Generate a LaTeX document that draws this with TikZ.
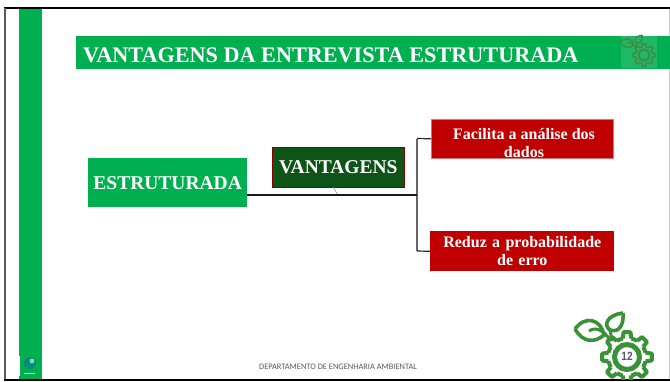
\documentclass[tikz,border=0pt]{standalone}
\usepackage{fontspec}
\setmainfont{Liberation Serif}
\newfontfamily\footfont{Carlito}
\newfontfamily\numfont{Liberation Sans}
\definecolor{gbar}{RGB}{0,176,80}
\definecolor{dgreen}{RGB}{14,84,24}
\definecolor{dred}{RGB}{192,0,0}
\definecolor{icong}{RGB}{58,146,56}
\definecolor{faintg}{RGB}{62,140,72}
\definecolor{numc}{RGB}{95,85,110}
\definecolor{globec}{RGB}{0,140,125}
\newcommand{\iconlw}{1}
\tikzset{
  x=1pt,y=-1pt,
  greenbox/.style={fill=gbar,text=white,font=\bfseries\fontsize{19.5}{22}\selectfont,inner sep=0pt,anchor=north west},
  redbox/.style={fill=dred,draw=dred!55!white,line width=.6pt,text=white,font=\bfseries\fontsize{16}{18}\selectfont,inner sep=0pt,align=center,anchor=north west},
  conn/.style={line width=1.5pt,black!90},
  branch/.style={line width=1.2pt,black!60},
  pics/ecogear/.style={code={
    \draw[#1,line width=\iconlw*4pt,line join=round]
      \foreach \a in {0,45,...,315}{
        {(\a-13:19) -- (\a-8:25) -- (\a+8:25) -- (\a+13:19)}
        {(\a+13:19) arc[start angle=\a+13,end angle=\a+32,radius=19]}
      };
    \draw[#1,line width=\iconlw*5pt] (0,0) circle[radius=12.5];
    \draw[#1,line width=\iconlw*3.6pt,line join=round]
      (-52,-28) .. controls (-42,-42) and (-26,-38) .. (-23,-22)
      .. controls (-32,-14) and (-44,-14) .. (-52,-28);
    \draw[#1,line width=\iconlw*3pt] (-38,-26) .. controls (-32,-30) and (-24,-28) .. (-17,-17);
    \draw[#1,line width=\iconlw*3.6pt,line join=round]
      (-4,-44) .. controls (-20,-42) and (-24,-32) .. (-17,-27)
      .. controls (-8,-24) and (-3,-32) .. (-4,-44);
    \draw[#1,line width=\iconlw*3pt] (-17,-27) -- (-15,-16);
  }}
}
\begin{document}
\begin{tikzpicture}
\useasboundingbox (0,0) rectangle (670,381);
\fill[white] (0,0) rectangle (670,381);
% green bar and frame
\fill[gbar] (19,9) rectangle (42,380);
\draw[black,line width=2pt] (4,8) -- (670,8);
\draw[black!65,line width=1.5pt] (5,8) -- (5,380);
\draw[black,line width=1.6pt] (4,380) -- (670,380);
\draw[black!20,line width=.7pt] (669.5,9) -- (669.5,379);
% title band
\fill[gbar] (76,36) rectangle (670,69);
\node[anchor=west,text=white,font=\bfseries\fontsize{22.2}{24}\selectfont,inner sep=0pt] (title) at (83,55) {VANTAGENS DA ENTREVISTA ESTRUTURADA};
\fill[white,opacity=.12] (621,35) rectangle (657,68);
\renewcommand{\iconlw}{0.4}
\pic[scale=.45,transform shape] at (644,55) {ecogear={draw=faintg}};
\renewcommand{\iconlw}{1}
% boxes
\node[greenbox,minimum width=159pt,minimum height=49pt] (estr) at (88,158) {ESTRUTURADA};
\node[greenbox,fill=dgreen,draw=dred!70!black,line width=.7pt,minimum width=132pt,minimum height=40pt] (vant) at (272,147) {VANTAGENS};
\node[redbox,minimum width=182pt,minimum height=39pt] (r1) at (431,119) {};
\node[text=white,font=\bfseries\fontsize{16}{18}\selectfont,align=center,inner sep=0pt,anchor=base] (r1a) at (524,139) {Facilita a análise dos};
\node[text=white,font=\bfseries\fontsize{16}{18}\selectfont,align=center,inner sep=0pt,anchor=base] (r1b) at (524,157) {dados};
\node[redbox,draw=none,text width=184pt,minimum height=40pt] (r2) at (430,231) {Reduz a probabilidade\\de erro};
% connectors
\coordinate (jn) at (417,195);
\coordinate (jt) at (417,138.5);
\coordinate (jb) at (417,251);
\coordinate (vb) at (333,187);
\coordinate (vc) at (338,195);
\draw[black!35!blue!50!white,line width=.5pt] (vb) -- (vc);
\draw[branch] (jt) -- (jb);
\draw[branch,black!85] (jt) -- (r1.west);
\draw[branch,black!85] (jb) -- (r2.west);
\draw[conn] (estr.east |- jn) -- (jn);
% footer
\node[font=\footfont\fontsize{8.4}{9}\selectfont,text=black!65,inner sep=0pt] (foot) at (338,366.5) {DEPARTAMENTO DE ENGENHARIA AMBIENTAL};
% logo
\fill[white] (18,356) rectangle (19.5,376);
\fill[globec] (30,363) circle[radius=6];
\fill[gbar!50!white] (32,361) circle[radius=2.5];
\draw[white!85!gbar,line width=1pt] (24,373.5) -- (35,373.5);
% gear icon
\begin{scope}
\clip (540,300) rectangle (670,379);
\pic at (627,357) {ecogear={draw=icong}};
\end{scope}
\node[font=\numfont\bfseries\fontsize{12}{12}\selectfont,text=numc,inner sep=0pt] (num) at (627,356) {\scalebox{.85}[1]{12}};
\end{tikzpicture}
\end{document}
